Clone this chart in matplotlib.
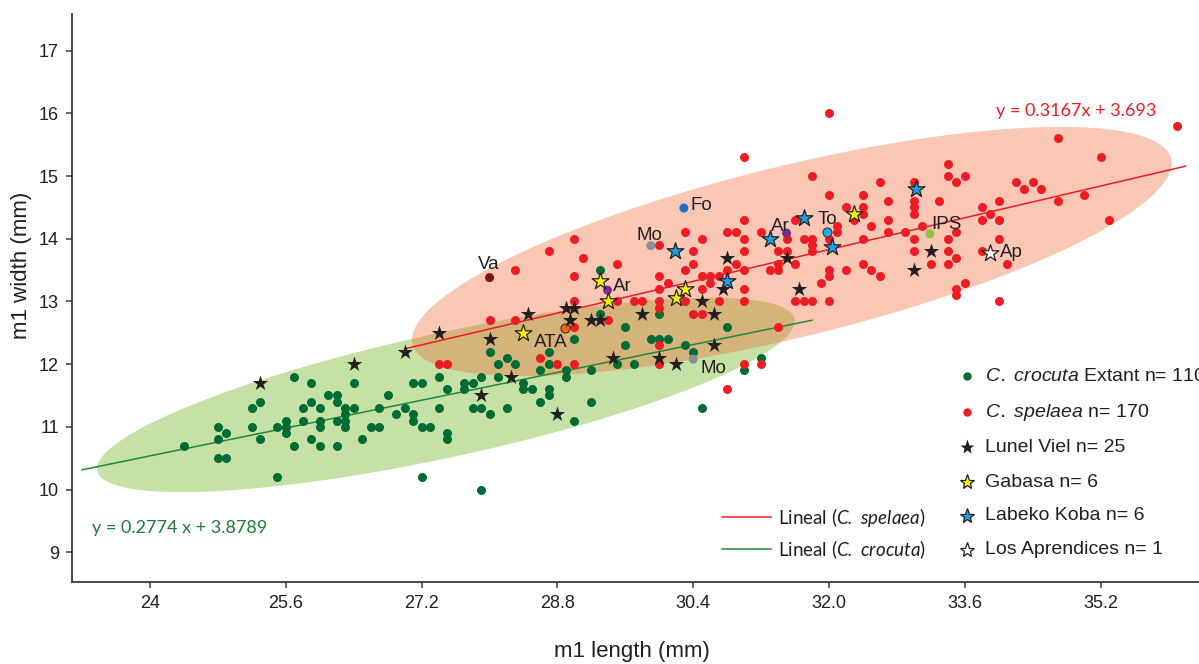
import numpy as np
import matplotlib
matplotlib.use("Agg")
import matplotlib.pyplot as plt

plt.rcParams['font.family'] = ['Liberation Sans', 'DejaVu Sans']
plt.rcParams['mathtext.fontset'] = 'custom'
plt.rcParams['mathtext.it'] = 'Liberation Sans:italic'
plt.rcParams['mathtext.sf'] = 'Lato:italic'

# m1 length, m1 width (mm)
crocuta = [
    (24.4, 10.7), (24.8, 11.0), (24.8, 10.8), (24.9, 10.9), (24.8, 10.5), (24.9, 10.5),
    (25.2, 11.3), (25.3, 11.4), (25.2, 11.0), (25.3, 10.8), (25.5, 11.0), (25.5, 10.2),
    (25.6, 11.1), (25.6, 11.0), (25.6, 10.9), (25.7, 11.8), (25.7, 10.7), (25.8, 11.3),
    (25.8, 11.1), (25.9, 11.7), (25.9, 11.4), (25.9, 10.8), (26.0, 11.3), (26.0, 11.1),
    (26.0, 11.0), (26.0, 10.7), (26.1, 11.5), (26.2, 11.5), (26.2, 11.4), (26.2, 11.1),
    (26.2, 10.7), (26.3, 11.3), (26.3, 11.2), (26.3, 11.1), (26.3, 11.0), (26.4, 11.7),
    (26.4, 11.3), (26.5, 10.8), (26.6, 11.0), (26.7, 11.3), (26.7, 11.0), (26.8, 11.5),
    (26.9, 11.2), (27.0, 11.3), (27.1, 11.7), (27.2, 11.7), (27.1, 11.2), (27.1, 11.1),
    (27.2, 11.0), (27.3, 11.0), (27.2, 10.2), (27.4, 11.8), (27.4, 11.3), (27.5, 11.6),
    (27.5, 10.9), (27.5, 10.8), (28.0, 12.2), (28.7, 12.2), (29.0, 12.4), (29.3, 12.8),
    (29.3, 13.5), (29.6, 12.6), (29.6, 12.3), (29.9, 12.4), (30.0, 12.4), (30.1, 12.4),
    (30.0, 12.8), (30.3, 12.3), (30.4, 12.2), (30.8, 12.6), (31.2, 12.1), (31.0, 11.9),
    (30.5, 11.3), (29.5, 12.0), (29.7, 12.0), (29.2, 11.9), (28.9, 11.9), (28.9, 11.8),
    (28.7, 12.0), (28.6, 11.9), (28.7, 11.6), (28.7, 11.5), (28.6, 11.4), (29.2, 11.4),
    (29.0, 11.1), (28.4, 11.7), (28.4, 11.6), (28.5, 11.6), (28.3, 12.0), (28.2, 12.1),
    (28.1, 12.0), (28.1, 11.8), (27.9, 11.8), (27.7, 11.7), (27.8, 11.7), (27.7, 11.6),
    (27.8, 11.3), (27.9, 11.3), (28.0, 11.2), (28.2, 11.3), (27.9, 10.0),
]

spelaea = [
    (27.4, 12.0), (27.5, 12.0), (28.0, 12.7), (28.3, 12.7), (28.6, 12.1), (28.8, 12.0),
    (29.0, 12.0), (29.0, 12.6), (29.0, 13.0), (29.4, 12.7), (29.5, 13.0), (29.7, 13.0),
    (29.8, 13.0), (30.0, 13.0), (30.0, 12.9), (30.0, 12.3), (30.0, 12.0), (30.3, 13.0),
    (30.4, 12.8), (30.5, 12.8), (30.7, 13.0), (31.0, 13.0), (31.0, 12.0), (31.2, 12.0),
    (31.4, 12.6), (30.8, 11.6), (31.6, 13.0), (31.7, 13.0), (31.8, 13.0), (32.0, 13.0),
    (30.1, 13.3), (30.0, 13.2), (30.0, 13.4), (30.5, 13.2), (30.5, 13.4), (30.6, 13.4),
    (30.7, 13.4), (30.6, 13.3), (31.0, 13.2), (31.0, 13.5), (31.0, 13.8), (31.0, 14.0),
    (31.0, 14.3), (30.8, 14.1), (30.9, 14.1), (31.2, 14.1), (30.9, 13.6), (30.8, 13.5),
    (31.3, 13.5), (31.4, 13.5), (31.4, 13.6), (31.5, 14.0), (31.5, 13.8), (31.4, 13.8),
    (31.6, 14.3), (31.6, 13.6), (31.7, 14.0), (31.8, 14.0), (31.8, 13.9), (31.8, 13.8),
    (32.0, 14.0), (32.1, 14.2), (32.1, 14.1), (31.9, 13.3), (32.0, 13.5), (32.0, 13.4),
    (32.2, 13.5), (32.4, 13.6), (32.5, 13.5), (32.6, 13.4), (31.8, 15.0), (32.0, 14.7),
    (32.4, 14.7), (32.6, 14.9), (32.4, 14.5), (32.4, 14.4), (32.2, 14.5), (32.3, 14.3),
    (32.7, 14.6), (32.7, 14.3), (32.5, 14.2), (32.7, 14.1), (32.9, 14.1), (32.4, 14.0),
    (33.0, 14.0), (33.0, 14.6), (33.0, 14.5), (33.0, 14.4), (33.0, 14.9), (33.0, 13.8),
    (33.1, 14.2), (33.3, 14.6), (33.4, 15.2), (33.4, 15.0), (33.5, 14.9), (33.6, 15.0),
    (33.4, 14.0), (33.5, 14.1), (33.4, 13.8), (33.5, 13.7), (33.4, 13.6), (33.2, 13.6),
    (33.5, 13.2), (33.5, 13.1), (33.6, 13.3), (33.8, 14.5), (33.8, 14.3), (33.9, 14.4),
    (34.0, 14.6), (34.0, 14.3), (34.0, 14.0), (33.8, 13.8), (34.1, 13.6), (34.0, 13.0),
    (34.2, 14.9), (34.3, 14.8), (34.4, 14.9), (34.5, 14.8), (34.7, 15.6), (34.7, 14.6),
    (35.0, 14.7), (35.2, 15.3), (35.3, 14.3), (36.1, 15.8), (32.0, 16.0), (31.0, 15.3),
    (28.3, 13.5), (28.7, 13.8), (29.0, 14.0), (29.1, 13.7), (29.0, 13.4), (29.5, 13.6),
    (30.0, 13.9), (30.3, 14.1), (30.5, 14.0), (30.4, 13.8), (30.4, 13.6), (30.3, 13.5),
]

lunel_viel = [
    (25.3, 11.7), (26.4, 12.0), (27.0, 12.2), (27.4, 12.5), (28.0, 12.4), (28.45, 12.8),
    (28.9, 12.9), (29.0, 12.9), (28.95, 12.7), (29.2, 12.7), (29.3, 12.7), (28.25, 11.8),
    (27.9, 11.5), (28.8, 11.2), (29.45, 12.1), (30.0, 12.1), (30.2, 12.0), (30.65, 12.3),
    (29.8, 12.8), (30.5, 13.0), (30.65, 12.8), (30.75, 13.2), (30.8, 13.7), (31.5, 13.7),
    (31.65, 13.2), (33.0, 13.5), (33.2, 13.8),
]
gabasa = [(29.3, 13.33), (29.4, 13.0), (30.2, 13.05), (30.3, 13.2), (28.4, 12.5), (32.3, 14.4)]
labeko_koba = [(30.18, 13.8), (31.3, 14.0), (30.8, 13.32), (31.7, 14.33), (32.03, 13.87), (33.02, 14.8)]
los_aprendices = [(33.9, 13.77)]

# single labelled sites: label, length, width, colour
sites = [
    ("Va", 28.0, 13.38, "#7d1315"),
    ("Fo", 30.29, 14.49, "#1b75bc"),
    ("Mo", 29.9, 13.89, "#8e8e90"),
    ("Ar", 29.39, 13.18, "#7b2d8e"),
    ("Ar", 31.5, 14.09, "#7b2d8e"),
    ("To", 31.98, 14.1, "#27aae1"),
    ("IPS", 33.19, 14.08, "#8cc63f"),
    ("ATA", 28.89, 12.58, "#f26522"),
    ("Mo", 30.4, 12.08, "#8e8e90"),
]
site_offsets = [(-1, 8.5, 'center'), (6.4, -2.4, 'left'), (-1.7, 6.0, 'center'),
                (5, -0.7, 'left'), (-6.7, 2.6, 'center'), (0, 8.1, 'center'),
                (16.7, 4.5, 'center'), (-14.7, -19, 'center'), (20, -13.7, 'center')]

# regressions
sp_slope, sp_icpt, sp_range = 0.3167, 3.693, (27.0, 36.2)
cr_slope, cr_icpt, cr_range = 0.2774, 3.8789, (23.2, 31.8)

xticks = [24, 25.6, 27.2, 28.8, 30.4, 32.0, 33.6, 35.2]
xticklabels = ["24", "25.6", "27.2", "28.8", "30.4", "32.0", "33.6", "35.2"]
yticks = [9, 10, 11, 12, 13, 14, 15, 16, 17]

W, H = 1199, 664
fig = plt.figure(figsize=(W / 100, H / 100), dpi=100)
ax = fig.add_axes([72 / W, (H - 582.3) / H, 1127 / W, 568.3 / H])
ax.set_xlim(23.08, 36.36)
ax.set_ylim(8.52, 17.585)


def ellipse(center, a, b, n=300):
    t = np.linspace(0, 2 * np.pi, n)
    return (center[0] + np.cos(t) * a[0] + np.sin(t) * b[0],
            center[1] + np.cos(t) * a[1] + np.sin(t) * b[1])


ex, ey = ellipse((27.486, 11.509), (4.111, 1.174), (0, 1.013))
ax.fill(ex, ey, color="#c6e1a5", lw=0, zorder=1)
ex, ey = ellipse((31.562, 13.797), (4.476, 1.406), (0, 1.404))
ax.fill(ex, ey, color=(239 / 255, 105 / 255, 52 / 255), alpha=0.37, lw=0, zorder=2)

xs = np.array(sp_range)
ax.plot(xs, sp_slope * xs + sp_icpt, color="#ed1c24", lw=1.1, zorder=3)
xs = np.array(cr_range)
ax.plot(xs, cr_slope * xs + cr_icpt, color="#1f8a3a", lw=1.1, zorder=3)

cx, cy = zip(*crocuta)
ax.scatter(cx, cy, s=42, color="#006b35", lw=0, zorder=4)
sx, sy = zip(*spelaea)
ax.scatter(sx, sy, s=42, color="#ed1c24", lw=0, zorder=4)

for label, x, y, col in sites:
    ec = "#333333" if label in ("To", "ATA") else "none"
    ax.scatter([x], [y], s=42, color=col, edgecolors=ec, lw=0.8, zorder=5)
for (label, x, y, col), (dx, dy, ha) in zip(sites, site_offsets):
    ax.annotate(label, (x, y), xytext=(dx, dy), textcoords='offset pixels',
                ha=ha, va='baseline', fontsize=13.5, color="#231f20", zorder=7)

lx, ly = zip(*lunel_viel)
ax.scatter(lx, ly, s=135, marker='*', color="#231f20", lw=0, zorder=6)
gx, gy = zip(*gabasa)
ax.scatter(gx, gy, s=160, marker='*', color="#fff200", edgecolors="#231f20", lw=0.9, zorder=6)
bx, by = zip(*labeko_koba)
ax.scatter(bx, by, s=160, marker='*', color="#1ba1e2", edgecolors="#231f20", lw=0.9, zorder=6)
ax.scatter(*zip(*los_aprendices), s=160, marker='*', color="white", edgecolors="#231f20", lw=0.9, zorder=6)
ax.annotate("Ap", los_aprendices[0], xytext=(9.7, -3.4), textcoords='offset pixels',
            ha='left', va='baseline', fontsize=13.5, color="#231f20", zorder=7)

# equations
ax.text(33.965, 16.03, "y = 0.3167x + 3.693", color="#ed1c24", fontsize=13,
        family=['Lato', 'DejaVu Sans'], ha='left', va='center')
ax.text(23.31, 9.38, "y = 0.2774 x + 3.8789", color="#1f7a3a", fontsize=13,
        family=['Lato', 'DejaVu Sans'], ha='left', va='center')

# legends (axes fraction)
leg_marker_x, leg_text_x = 0.7939, 0.8101
leg_rows = [0.3630, 0.2988, 0.2376, 0.1760, 0.1167, 0.0569]
leg_items = [
    (r"$\mathit{C.\ crocuta}$ Extant n= 110", dict(marker='o', ms=6, mfc="#006b35", mec="none")),
    (r"$\mathit{C.\ spelaea}$ n= 170", dict(marker='o', ms=6, mfc="#ed1c24", mec="none")),
    ("Lunel Viel n= 25", dict(marker='*', ms=11, mfc="#231f20", mec="none")),
    ("Gabasa n= 6", dict(marker='*', ms=11, mfc="#fff200", mec="#231f20", mew=0.9)),
    ("Labeko Koba n= 6", dict(marker='*', ms=11, mfc="#1ba1e2", mec="#231f20", mew=0.9)),
    ("Los Aprendices n= 1", dict(marker='*', ms=11, mfc="white", mec="#231f20", mew=0.9)),
]
for (txt, mk), yy in zip(leg_items, leg_rows):
    ax.plot([leg_marker_x], [yy], transform=ax.transAxes, ls='none', clip_on=False, zorder=8, **mk)
    ax.text(leg_text_x, yy, txt, transform=ax.transAxes, fontsize=14, color="#231f20",
            va='center', ha='left', clip_on=False)

line_items = [(r"Lineal ($\mathsf{C.\ spelaea}$)", "#ed1c24", 0.1144),
              (r"Lineal ($\mathsf{C.\ crocuta}$)", "#1f8a3a", 0.0581)]
for txt, col, yy in line_items:
    ax.plot([0.5765, 0.6200], [yy, yy], transform=ax.transAxes, color=col, lw=1.1, clip_on=False)
    ax.text(0.6267, yy, txt, transform=ax.transAxes, fontsize=13.5, color="#231f20",
            family=['Lato', 'DejaVu Sans'], va='center', ha='left')

for side in ("top", "right"):
    ax.spines[side].set_visible(False)
for side in ("left", "bottom"):
    ax.spines[side].set_color("#3a3a3a")
    ax.spines[side].set_linewidth(1.3)
ax.set_xticks(xticks)
ax.set_xticklabels(xticklabels)
ax.set_yticks(yticks)
ax.tick_params(direction='out', length=4.5, width=1.1, color="#3a3a3a",
               labelsize=13, labelcolor="#231f20", pad=5)

fig.text(21.7 / W, 1 - 265 / H, "m1 width (mm)", rotation=90, ha='center', va='center',
         fontsize=16, color="#231f20")
fig.text(632 / W, (H - 657) / H, "m1 length (mm)", ha='center', va='baseline',
         fontsize=16, color="#231f20")

fig.savefig("out.png", dpi=100)
